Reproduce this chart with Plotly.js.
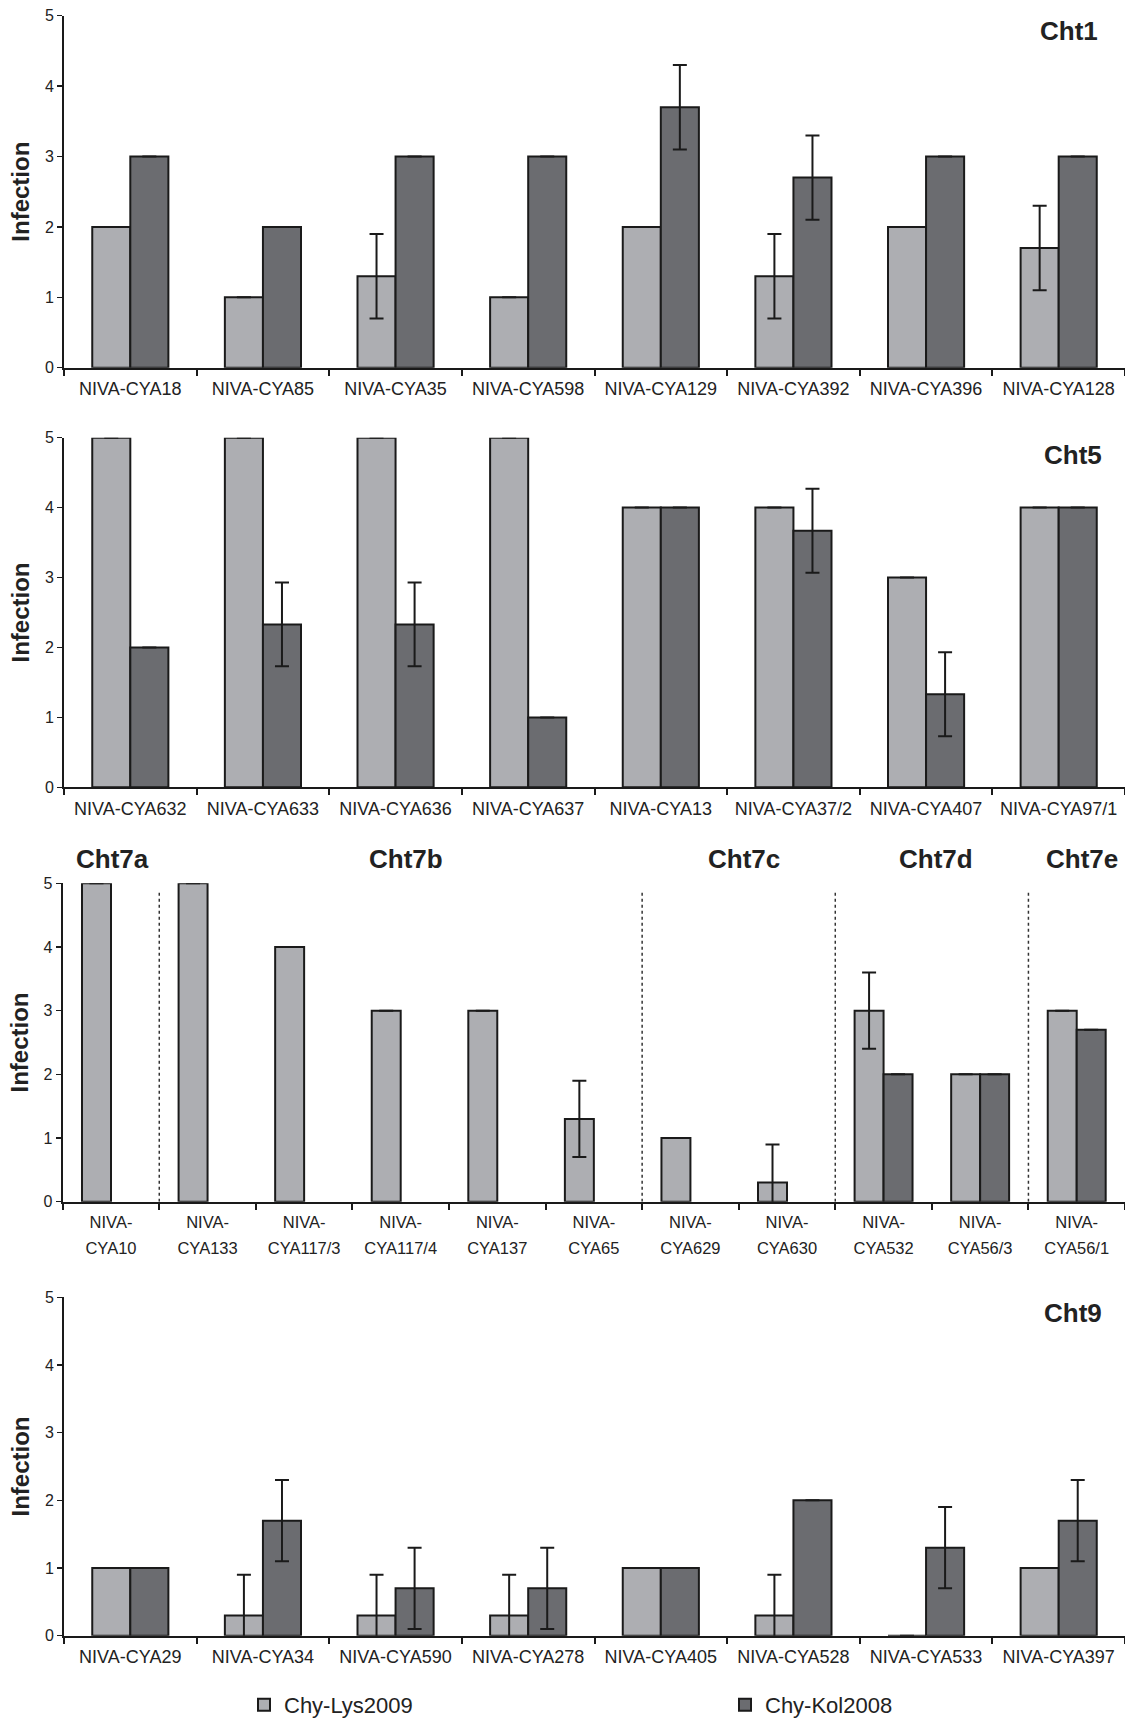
<!DOCTYPE html>
<html>
<head>
<meta charset="utf-8">
<script src="https://cdn.plot.ly/plotly-3.0.1.min.js"></script>
<style>html,body{margin:0;padding:0;background:#fff;overflow:hidden;}#chart{width:1125px;height:1720px;}</style>
</head>
<body>
<div id="chart"></div>
<script>
// ---------- DATA ----------
const seriesNames = ["Chy-Lys2009", "Chy-Kol2008"];

// Cht1
const cht1Strains = ["NIVA-CYA18","NIVA-CYA85","NIVA-CYA35","NIVA-CYA598","NIVA-CYA129","NIVA-CYA392","NIVA-CYA396","NIVA-CYA128"];
const cht1Lys    = [2, 1, 1.3, 1, 2, 1.3, 2, 1.7];
const cht1LysErr = [0, 0, 0.6, 0, 0, 0.6, 0, 0.6];
const cht1Kol    = [3, 2, 3, 3, 3.7, 2.7, 3, 3];
const cht1KolErr = [0, 0, 0, 0, 0.6, 0.6, 0, 0];

// Cht5
const cht5Strains = ["NIVA-CYA632","NIVA-CYA633","NIVA-CYA636","NIVA-CYA637","NIVA-CYA13","NIVA-CYA37/2","NIVA-CYA407","NIVA-CYA97/1"];
const cht5Lys    = [5, 5, 5, 5, 4, 4, 3, 4];
const cht5LysErr = [0, 0, 0, 0, 0, 0, 0, 0];
const cht5Kol    = [2, 2.33, 2.33, 1, 4, 3.67, 1.33, 4];
const cht5KolErr = [0, 0.6, 0.6, 0, 0, 0.6, 0.6, 0];

// Cht7 (a-e)
const cht7Strains = ["NIVA-CYA10","NIVA-CYA133","NIVA-CYA117/3","NIVA-CYA117/4","NIVA-CYA137","NIVA-CYA65","NIVA-CYA629","NIVA-CYA630","NIVA-CYA532","NIVA-CYA56/3","NIVA-CYA56/1"];
const cht7Lys    = [5, 5, 4, 3, 3, 1.3, 1, 0.3, 3, 2, 3];
const cht7LysErr = [0, 0, 0, 0, 0, 0.6, 0, 0.6, 0.6, 0, 0];
const cht7Kol    = [null, null, null, null, null, null, null, null, 2, 2, 2.7];
const cht7KolErr = [0, 0, 0, 0, 0, 0, 0, 0, 0, 0, 0];
const cht7Groups = ["Cht7a", "Cht7b", "Cht7c", "Cht7d", "Cht7e"];
const cht7GroupStart = [0, 1, 6, 8, 10];   // first category index of each group

// Cht9
const cht9Strains = ["NIVA-CYA29","NIVA-CYA34","NIVA-CYA590","NIVA-CYA278","NIVA-CYA405","NIVA-CYA528","NIVA-CYA533","NIVA-CYA397"];
const cht9Lys    = [1, 0.3, 0.3, 0.3, 1, 0.3, 0, 1];
const cht9LysErr = [0, 0.6, 0.6, 0.6, 0, 0.6, 0, 0];
const cht9Kol    = [1, 1.7, 0.7, 0.7, 1, 2, 1.3, 1.7];
const cht9KolErr = [0, 0.6, 0.6, 0.6, 0, 0, 0.6, 0.6];

const yTicks = [0, 1, 2, 3, 4, 5];

// ---------- STYLE ----------
const W = 1125, H = 1720;
const FONT = "Liberation Sans, Arial, Helvetica, sans-serif";
const LYS_COLOR = "#adaeb2";
const KOL_COLOR = "#6b6c70";
const EDGE = "#1a1a1a";
const TXT = "#222222";

function py(px) { return 1 - px / H; }

const panels = [
  {strains: cht1Strains, lys: cht1Lys, lysErr: cht1LysErr, kol: cht1Kol, kolErr: cht1KolErr, top: 15.7, bottom: 367.7, left: 64, bw: 0.287, tick: 18, split: false},
  {strains: cht5Strains, lys: cht5Lys, lysErr: cht5LysErr, kol: cht5Kol, kolErr: cht5KolErr, top: 437.7, bottom: 787.3, left: 64, bw: 0.287, tick: 18, split: false},
  {strains: cht7Strains, lys: cht7Lys, lysErr: cht7LysErr, kol: cht7Kol, kolErr: cht7KolErr, top: 883.3, bottom: 1201.7, left: 62.7, bw: 0.30, tick: 16.5, split: true},
  {strains: cht9Strains, lys: cht9Lys, lysErr: cht9LysErr, kol: cht9Kol, kolErr: cht9KolErr, top: 1297.3, bottom: 1635.7, left: 64, bw: 0.287, tick: 18, split: false}
];

const data = [];
const layout = {
  width: W, height: H,
  margin: {l: 0, r: 0, t: 0, b: 0, autoexpand: false},
  paper_bgcolor: "#fff", plot_bgcolor: "#fff",
  font: {family: FONT, color: TXT},
  barmode: "overlay",
  showlegend: true,
  legend: {
    orientation: "h", x: 244 / W, xanchor: "left", y: py(1705), yanchor: "middle",
    font: {size: 22, family: FONT, color: TXT}, bgcolor: "rgba(0,0,0,0)"
  },
  legend2: {
    orientation: "h", x: 725 / W, xanchor: "left", y: py(1705), yanchor: "middle",
    font: {size: 22, family: FONT, color: TXT}, bgcolor: "rgba(0,0,0,0)"
  },
  annotations: [],
  shapes: []
};

// bars are left unclipped unless an error bar would reach below zero
function noneBelowZero(vals, errs) {
  return vals.every((v, k) => v === null || v - errs[k] >= 0);
}

panels.forEach((p, i) => {
  const n = i + 1;
  const xa = n === 1 ? "x" : "x" + n;
  const ya = n === 1 ? "y" : "y" + n;
  const errStyle = (arr) => ({type: "data", array: arr, visible: true, color: EDGE, thickness: 2, width: 7});
  data.push({
    type: "bar", name: seriesNames[0], x: p.strains, y: p.lys, xaxis: xa, yaxis: ya,
    width: p.bw, offset: -p.bw, cliponaxis: !noneBelowZero(p.lys, p.lysErr),
    marker: {color: LYS_COLOR, line: {color: EDGE, width: 2}},
    error_y: errStyle(p.lysErr), showlegend: i === 0, legend: "legend", hoverinfo: "x+y"
  });
  data.push({
    type: "bar", name: seriesNames[1], x: p.strains, y: p.kol, xaxis: xa, yaxis: ya,
    width: p.bw, offset: 0, cliponaxis: !noneBelowZero(p.kol, p.kolErr),
    marker: {color: KOL_COLOR, line: {color: EDGE, width: 2}},
    error_y: errStyle(p.kolErr), showlegend: i === 0, legend: "legend2", hoverinfo: "x+y"
  });
  const xKey = n === 1 ? "xaxis" : "xaxis" + n;
  const yKey = n === 1 ? "yaxis" : "yaxis" + n;
  const xAxis = {
    domain: [p.left / W, 1], anchor: ya, type: "category",
    showline: true, linecolor: EDGE, linewidth: 2, mirror: false,
    ticks: "outside", tickson: "boundaries", ticklen: 6, tickwidth: 2, tickcolor: EDGE,
    tickfont: {size: p.tick, family: FONT, color: TXT}, ticklabelstandoff: 4,
    showgrid: false, zeroline: false, fixedrange: true, automargin: false
  };
  if (p.split) {
    // first line of each two-line label on this axis, second line on an overlaid axis
    xAxis.tickmode = "array";
    xAxis.tickvals = p.strains;
    xAxis.ticktext = p.strains.map(s => s.split("-")[0] + "-");
    xAxis.ticklabelstandoff = 4;
    const idx = p.strains.map((s, k) => k);
    layout.xaxis5 = {
      domain: [p.left / W, 1], anchor: ya, overlaying: xa, type: "linear",
      range: [-0.5, p.strains.length - 0.5],
      tickmode: "array", tickvals: idx,
      ticktext: p.strains.map(s => s.split("-").slice(1).join("-")),
      ticks: "", showline: false, showgrid: false, zeroline: false,
      tickfont: {size: p.tick, family: FONT, color: TXT}, ticklabelstandoff: 35,
      fixedrange: true, automargin: false
    };
    // empty carrier trace so the overlaid label axis is drawn
    data.push({
      type: "scatter", mode: "markers", x: idx, y: idx.map(() => null),
      xaxis: "x5", yaxis: ya, showlegend: false, hoverinfo: "skip",
      marker: {opacity: 0}
    });
  }
  layout[xKey] = xAxis;
  layout[yKey] = {
    domain: [py(p.bottom), py(p.top)], anchor: xa, range: [0, 5],
    tickvals: yTicks, ticktext: yTicks.map(String),
    showline: true, linecolor: EDGE, linewidth: 2,
    ticks: "outside", ticklen: 5, tickwidth: 1.5, tickcolor: EDGE,
    tickfont: {size: 16, family: FONT, color: TXT},
    showgrid: false, zeroline: false, fixedrange: true, automargin: false,
    title: {text: "Infection", font: {size: 24, family: FONT, color: TXT, weight: 700}, standoff: 8}
  };
});

// panel titles
function title(text, xpx, ypx, anchor) {
  layout.annotations.push({
    text: text, xref: "paper", yref: "paper", x: xpx / W, y: py(ypx),
    xanchor: anchor, yanchor: "middle", showarrow: false,
    font: {size: 26, family: FONT, color: TXT, weight: 700}
  });
}
title("Cht1", 1100, 31, "right");
title("Cht5", 1104, 455, "right");
title("Cht9", 1104, 1313, "right");
const cht7TitleX = [112.5, 406, 744, 936, 1082];
cht7Groups.forEach((g, k) => title(g, cht7TitleX[k], 859, "center"));

// dotted separators between Cht7 groups
cht7GroupStart.slice(1).forEach(s => {
  layout.shapes.push({
    type: "line", xref: "x3", yref: "y3", x0: s - 0.5, x1: s - 0.5, y0: 0, y1: 4.9,
    line: {color: "#333", width: 1.5, dash: "dot"}
  });
});

Plotly.newPlot("chart", data, layout, {staticPlot: true, displayModeBar: false});
</script>
</body>
</html>
